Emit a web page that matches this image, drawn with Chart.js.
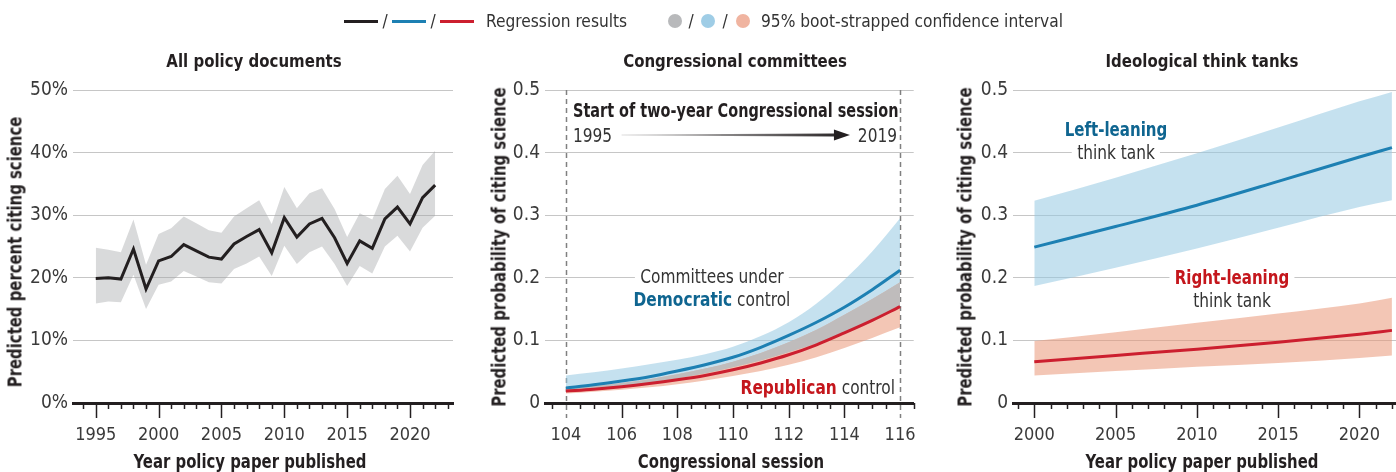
<!DOCTYPE html>
<html>
<head>
<meta charset="utf-8">
<script src="https://cdn.jsdelivr.net/npm/chart.js@4.4.0/dist/chart.umd.min.js"></script>
<style>
  body { margin: 0; width: 1396px; height: 472px; background: #fff; overflow: hidden; position: relative;
         font-family: "Liberation Sans Narrow", "DejaVu Sans Condensed", sans-serif; color: #333; }
  canvas { position: absolute; top: 0; }
  .t { position: absolute; white-space: nowrap; line-height: 1; font-size: 19px; }
  .c { transform-origin: center; transform: translate(-50%, -50%) scaleX(var(--k, 1)); }
  .l { transform-origin: left center; transform: translate(0, -50%) scaleX(var(--k, 1)); }
  .r { transform-origin: right center; transform: translate(-100%, -50%) scaleX(var(--k, 1)); }
  .rot { transform-origin: center; transform: translate(-50%, -50%) rotate(-90deg) scaleX(var(--k, 1)); }
  .b { font-weight: bold; color: #231f20; }
  .title { font-size: 18px; --k: 0.925; }
  .ax { font-size: 19px; --k: 0.87; }
  .leg { font-size: 18px; --k: 0.955; }
  .ann { --k: 0.9; }
  .annb { --k: 0.88; }
  .wb { background: #fff; padding: 0 6px; }
  .seg { position: absolute; height: 3px; width: 34px; top: 20px; }
  .dot { position: absolute; width: 14px; height: 14px; border-radius: 50%; top: 14px; }
</style>
</head>
<body>
<canvas id="docs" width="460" height="472" style="left:0"></canvas>
<canvas id="congress" width="470" height="472" style="left:460px"></canvas>
<canvas id="tanks" width="466" height="472" style="left:930px"></canvas>

<!-- legend -->
<div class="seg" style="left:344px;background:#231f20"></div>
<div class="t c leg" style="left:385px;top:21px">/</div>
<div class="seg" style="left:392px;background:#1d80b3"></div>
<div class="t c leg" style="left:433px;top:21px">/</div>
<div class="seg" style="left:440px;background:#cc1f2f"></div>
<div class="t l leg" style="left:486px;top:21px">Regression results</div>
<div class="dot" style="left:668px;background:#b8b9bb"></div>
<div class="t c leg" style="left:691px;top:21px">/</div>
<div class="dot" style="left:701px;background:#9fcde6"></div>
<div class="t c leg" style="left:725px;top:21px">/</div>
<div class="dot" style="left:736px;background:#f0b4a0"></div>
<div class="t l leg" style="left:761px;top:21px">95% boot-strapped confidence interval</div>

<!-- panel titles -->
<div class="t c b title" style="left:254px;top:61px">All policy documents</div>
<div class="t c b title" style="left:735px;top:61px">Congressional committees</div>
<div class="t c b title" style="left:1202px;top:61px">Ideological think tanks</div>

<!-- axis titles -->
<div class="t rot b ax" style="left:15px;top:252px">Predicted percent citing science</div>
<div class="t rot b ax" style="left:499px;top:247px">Predicted probability of citing science</div>
<div class="t rot b ax" style="left:965px;top:247px">Predicted probability of citing science</div>
<div class="t c b ax" style="left:250px;top:461px">Year policy paper published</div>
<div class="t c b ax" style="left:731px;top:461px">Congressional session</div>
<div class="t c b ax" style="left:1202px;top:461px">Year policy paper published</div>

<!-- annotations, congressional committees -->
<div class="t l b" style="left:573px;top:110px;--k:0.845">Start of two-year Congressional session</div>
<div class="t l ann" style="left:573px;top:135px">1995</div>
<div class="t r ann" style="left:897px;top:135px">2019</div>
<div class="t c ann wb" style="left:712px;top:276px">Committees under</div>
<div class="t c ann" style="left:712px;top:299px"><span style="font-weight:bold;color:#0f6590">Democratic</span> control</div>
<div class="t r ann" style="left:895px;top:387px"><span style="font-weight:bold;color:#c4161c">Republican</span> control</div>

<!-- annotations, think tanks -->
<div class="t c annb" style="left:1116px;top:129px;font-weight:bold;color:#0f6590">Left-leaning</div>
<div class="t c ann wb" style="left:1116px;top:152px">think tank</div>
<div class="t c annb wb" style="left:1232px;top:277px;font-weight:bold;color:#c4161c">Right-leaning</div>
<div class="t c ann" style="left:1232px;top:300px">think tank</div>

<script>
// ---- data ----
const years = [1995, 1996, 1997, 1998, 1999, 2000, 2001, 2002, 2003, 2004, 2005, 2006, 2007, 2008,
               2009, 2010, 2011, 2012, 2013, 2014, 2015, 2016, 2017, 2018, 2019, 2020, 2021, 2022];
const allDocs   = [19.9, 20.0, 19.8, 24.6, 18.2, 22.7, 23.4, 25.3, 24.3, 23.3, 23.0, 25.4, 26.6, 27.7,
                   24.0, 29.6, 26.5, 28.6, 29.5, 26.4, 22.3, 25.9, 24.7, 29.4, 31.3, 28.6, 32.8, 34.8];
const allDocsHi = [24.8, 24.5, 24.1, 29.3, 22.1, 27.0, 27.9, 29.8, 28.7, 27.6, 27.2, 29.8, 31.1, 32.4,
                   28.6, 34.5, 31.1, 33.5, 34.3, 31.0, 26.5, 30.3, 29.3, 34.2, 36.3, 33.4, 38.0, 40.3];
const allDocsLo = [15.9, 16.2, 16.1, 20.5, 15.0, 18.9, 19.4, 21.1, 20.2, 19.3, 19.1, 21.4, 22.3, 23.4,
                   20.3, 25.1, 22.2, 24.1, 25.0, 22.2, 18.7, 21.9, 20.7, 25.0, 26.7, 24.2, 28.0, 29.9];

const sessions = [104, 105, 106, 107, 108, 109, 110, 111, 112, 113, 114, 115, 116];
const demProb = [0.024, 0.029, 0.035, 0.042, 0.051, 0.061, 0.073, 0.089, 0.108, 0.129, 0.153, 0.181, 0.212];
const demHi   = [0.044, 0.049, 0.055, 0.062, 0.069, 0.078, 0.090, 0.107, 0.129, 0.159, 0.197, 0.242, 0.295];
const demLo   = [0.017, 0.021, 0.026, 0.032, 0.039, 0.047, 0.057, 0.068, 0.081, 0.095, 0.111, 0.130, 0.152];
const repProb = [0.019, 0.022, 0.026, 0.031, 0.037, 0.044, 0.053, 0.064, 0.077, 0.093, 0.112, 0.132, 0.154];
const repHi   = [0.023, 0.027, 0.032, 0.038, 0.046, 0.055, 0.066, 0.080, 0.097, 0.117, 0.141, 0.166, 0.193];
const repLo   = [0.015, 0.018, 0.021, 0.025, 0.030, 0.036, 0.043, 0.051, 0.061, 0.073, 0.088, 0.104, 0.121];

const tankYears = [2000, 2005, 2010, 2015, 2020, 2022];
const leftTank   = [0.249, 0.282, 0.316, 0.354, 0.393, 0.408];
const leftTankHi = [0.323, 0.360, 0.399, 0.440, 0.482, 0.497];
const leftTankLo = [0.187, 0.216, 0.247, 0.280, 0.313, 0.324];
const rightTank   = [0.066, 0.076, 0.086, 0.097, 0.110, 0.116];
const rightTankHi = [0.099, 0.113, 0.128, 0.143, 0.159, 0.168];
const rightTankLo = [0.044, 0.051, 0.058, 0.064, 0.072, 0.076];

const pctTicks = [0, 10, 20, 30, 40, 50];
const probTicks = [0, 0.1, 0.2, 0.3, 0.4, 0.5];
const docYearTicks = [1995, 2000, 2005, 2010, 2015, 2020];
const sessionTicks = [104, 106, 108, 110, 112, 114, 116];
const tankYearTicks = [2000, 2005, 2010, 2015, 2020];
const sessionMarks = [104, 116];          // dashed lines, first and last session
const sessionArrow = [106, 114.2, 0.428]; // from, to, level

// ---- styles ----
const FONT = '"Liberation Sans Narrow", "DejaVu Sans Condensed", sans-serif';
const INK = '#231f20';
const TEXT = '#3a3a3a';
const GRID = '#c6c6c6';
const BLUE = '#1d80b3';
const RED = '#cc1f2f';
const GRAY_BAND = 'rgba(160,163,166,0.4)';
const BLUE_BAND = 'rgba(150,200,226,0.55)';
const RED_BAND = 'rgba(233,151,120,0.55)';
const OVERLAP = 'rgba(188,188,190,0.9)';

Chart.defaults.font.family = FONT;
Chart.defaults.animation = false;

const pts = (xs, ys) => xs.map((x, i) => ({ x: x, y: ys[i] }));

function band(xs, ys, extra) {
  return Object.assign({ data: pts(xs, ys), borderColor: 'transparent', borderWidth: 0,
                         pointRadius: 0, fill: false }, extra);
}

// minor / major tick marks under the x axis
const tickMarks = {
  id: 'tickMarks',
  afterDraw(chart, args, opts) {
    const x = chart.scales.x, y0 = chart.chartArea.bottom, ctx = chart.ctx;
    const n = Math.round((opts.to - opts.from) / opts.minor);
    ctx.save();
    ctx.strokeStyle = INK;
    ctx.lineWidth = 1.5;
    for (let i = 0; i <= n; i++) {
      const v = opts.from + i * opts.minor;
      if (opts.skip && opts.skip.includes(v)) continue;
      const r = v / opts.major;
      const major = Math.abs(r - Math.round(r)) < 1e-6;
      const px = Math.round(x.getPixelForValue(v)) + 0.5;
      ctx.beginPath();
      ctx.moveTo(px, y0);
      ctx.lineTo(px, y0 + (major ? 15 : 6));
      ctx.stroke();
    }
    ctx.restore();
  }
};

// dashed session lines and the arrow in the committees panel
const sessionGuides = {
  id: 'sessionGuides',
  beforeDatasetsDraw(chart) {
    const { x } = chart.scales, ctx = chart.ctx, a = chart.chartArea;
    ctx.save();
    ctx.strokeStyle = '#808080';
    ctx.lineWidth = 1.5;
    ctx.setLineDash([5, 4]);
    sessionMarks.forEach(v => {
      const px = Math.round(x.getPixelForValue(v)) + 0.5;
      ctx.beginPath();
      ctx.moveTo(px, a.top);
      ctx.lineTo(px, a.bottom + 15);
      ctx.stroke();
    });
    ctx.restore();
  },
  afterDraw(chart) {
    const { x, y } = chart.scales, ctx = chart.ctx;
    const x0 = x.getPixelForValue(sessionArrow[0]);
    const x1 = x.getPixelForValue(sessionArrow[1]);
    const py = y.getPixelForValue(sessionArrow[2]);
    const g = ctx.createLinearGradient(x0, 0, x1, 0);
    g.addColorStop(0, 'rgba(35,31,32,0.15)');
    g.addColorStop(1, INK);
    ctx.save();
    ctx.fillStyle = g;
    ctx.beginPath();
    ctx.moveTo(x0, py - 0.5);
    ctx.lineTo(x1 - 14, py - 1.5);
    ctx.lineTo(x1 - 14, py + 1.5);
    ctx.lineTo(x0, py + 0.5);
    ctx.closePath();
    ctx.fill();
    ctx.fillStyle = INK;
    ctx.beginPath();
    ctx.moveTo(x1 - 16, py - 5.5);
    ctx.lineTo(x1, py);
    ctx.lineTo(x1 - 16, py + 5.5);
    ctx.closePath();
    ctx.fill();
    ctx.restore();
  }
};

function axes(o) {
  return {
    x: {
      type: 'linear', min: o.xMin, max: o.xMax,
      afterBuildTicks: s => { s.ticks = o.xTicks.map(v => ({ value: v })); },
      afterFit: s => { s.height = 69; },
      ticks: { font: { size: 18 }, color: TEXT, padding: 14, maxRotation: 0, autoSkip: false,
               callback: v => String(v) },
      grid: { display: false },
      border: { display: true, color: INK, width: 3 }
    },
    y: {
      min: 0, max: o.yMax,
      afterBuildTicks: s => { s.ticks = o.yTicks.map(v => ({ value: v })); },
      afterFit: s => { s.width = o.yWidth; },
      ticks: { font: { size: 19 }, color: TEXT, padding: 5, callback: o.yLabel },
      grid: { color: GRID, lineWidth: 1, drawTicks: false },
      border: { display: false }
    }
  };
}

const common = {
  responsive: false,
  plugins: { legend: { display: false }, tooltip: { enabled: false } }
};

// ---- panel 1: all policy documents ----
new Chart(document.getElementById('docs'), {
  type: 'line',
  data: {
    datasets: [
      Object.assign(band(years, allDocs), { borderColor: INK, borderWidth: 3, order: 0, tension: 0 }),
      band(years, allDocsHi, { fill: '+1', backgroundColor: GRAY_BAND, order: 2 }),
      band(years, allDocsLo, { order: 3 })
    ]
  },
  options: Object.assign({}, common, {
    layout: { padding: { left: 0, top: 90, right: 7, bottom: 0 } },
    scales: axes({ xMin: 1993.19, xMax: 2023.42, xTicks: docYearTicks, yMax: 50, yTicks: pctTicks,
                   yWidth: 73, yLabel: v => v + '%' }),
    plugins: Object.assign({}, common.plugins, { tickMarks: { from: 1994, to: 2023, minor: 1, major: 5 } })
  }),
  plugins: [tickMarks]
});

// ---- panel 2: congressional committees ----
const smooth = { cubicInterpolationMode: 'monotone' };
new Chart(document.getElementById('congress'), {
  type: 'line',
  data: {
    datasets: [
      Object.assign(band(sessions, repProb, smooth), { borderColor: RED, borderWidth: 3, order: 0 }),
      Object.assign(band(sessions, demProb, smooth), { borderColor: BLUE, borderWidth: 3, order: 1 }),
      band(sessions, demHi, Object.assign({ fill: 3, backgroundColor: BLUE_BAND, order: 6 }, smooth)),
      band(sessions, demLo, Object.assign({ order: 7 }, smooth)),
      band(sessions, repHi, Object.assign({ fill: 5, backgroundColor: RED_BAND, order: 4 }, smooth)),
      band(sessions, repLo, Object.assign({ order: 5 }, smooth)),
      band(sessions, repHi, Object.assign({ fill: { target: 3, above: OVERLAP, below: 'transparent' },
                                            order: 2 }, smooth))
    ]
  },
  options: Object.assign({}, common, {
    layout: { padding: { left: 0, top: 90, right: 13, bottom: 0 } },
    scales: axes({ xMin: 103.25, xMax: 116.49, xTicks: sessionTicks, yMax: 0.5, yTicks: probTicks,
                   yWidth: 85, yLabel: v => (v === 0 ? '0' : v.toFixed(1)) }),
    plugins: Object.assign({}, common.plugins,
      { tickMarks: { from: 103.5, to: 116.5, minor: 0.5, major: 2, skip: sessionMarks } })
  }),
  plugins: [tickMarks, sessionGuides]
});

// ---- panel 3: ideological think tanks ----
new Chart(document.getElementById('tanks'), {
  type: 'line',
  data: {
    datasets: [
      Object.assign(band(tankYears, rightTank, smooth), { borderColor: RED, borderWidth: 3, order: 0 }),
      Object.assign(band(tankYears, leftTank, smooth), { borderColor: BLUE, borderWidth: 3, order: 1 }),
      band(tankYears, leftTankHi, Object.assign({ fill: 3, backgroundColor: BLUE_BAND, order: 4 }, smooth)),
      band(tankYears, leftTankLo, Object.assign({ order: 5 }, smooth)),
      band(tankYears, rightTankHi, Object.assign({ fill: 5, backgroundColor: RED_BAND, order: 2 }, smooth)),
      band(tankYears, rightTankLo, Object.assign({ order: 3 }, smooth))
    ]
  },
  options: Object.assign({}, common, {
    layout: { padding: { left: 0, top: 90, right: 0, bottom: 0 } },
    scales: axes({ xMin: 1998.69, xMax: 2022.25, xTicks: tankYearTicks, yMax: 0.5, yTicks: probTicks,
                   yWidth: 83, yLabel: v => (v === 0 ? '0' : v.toFixed(1)) }),
    plugins: Object.assign({}, common.plugins, { tickMarks: { from: 1999, to: 2022, minor: 1, major: 5 } })
  }),
  plugins: [tickMarks]
});
</script>
</body>
</html>
